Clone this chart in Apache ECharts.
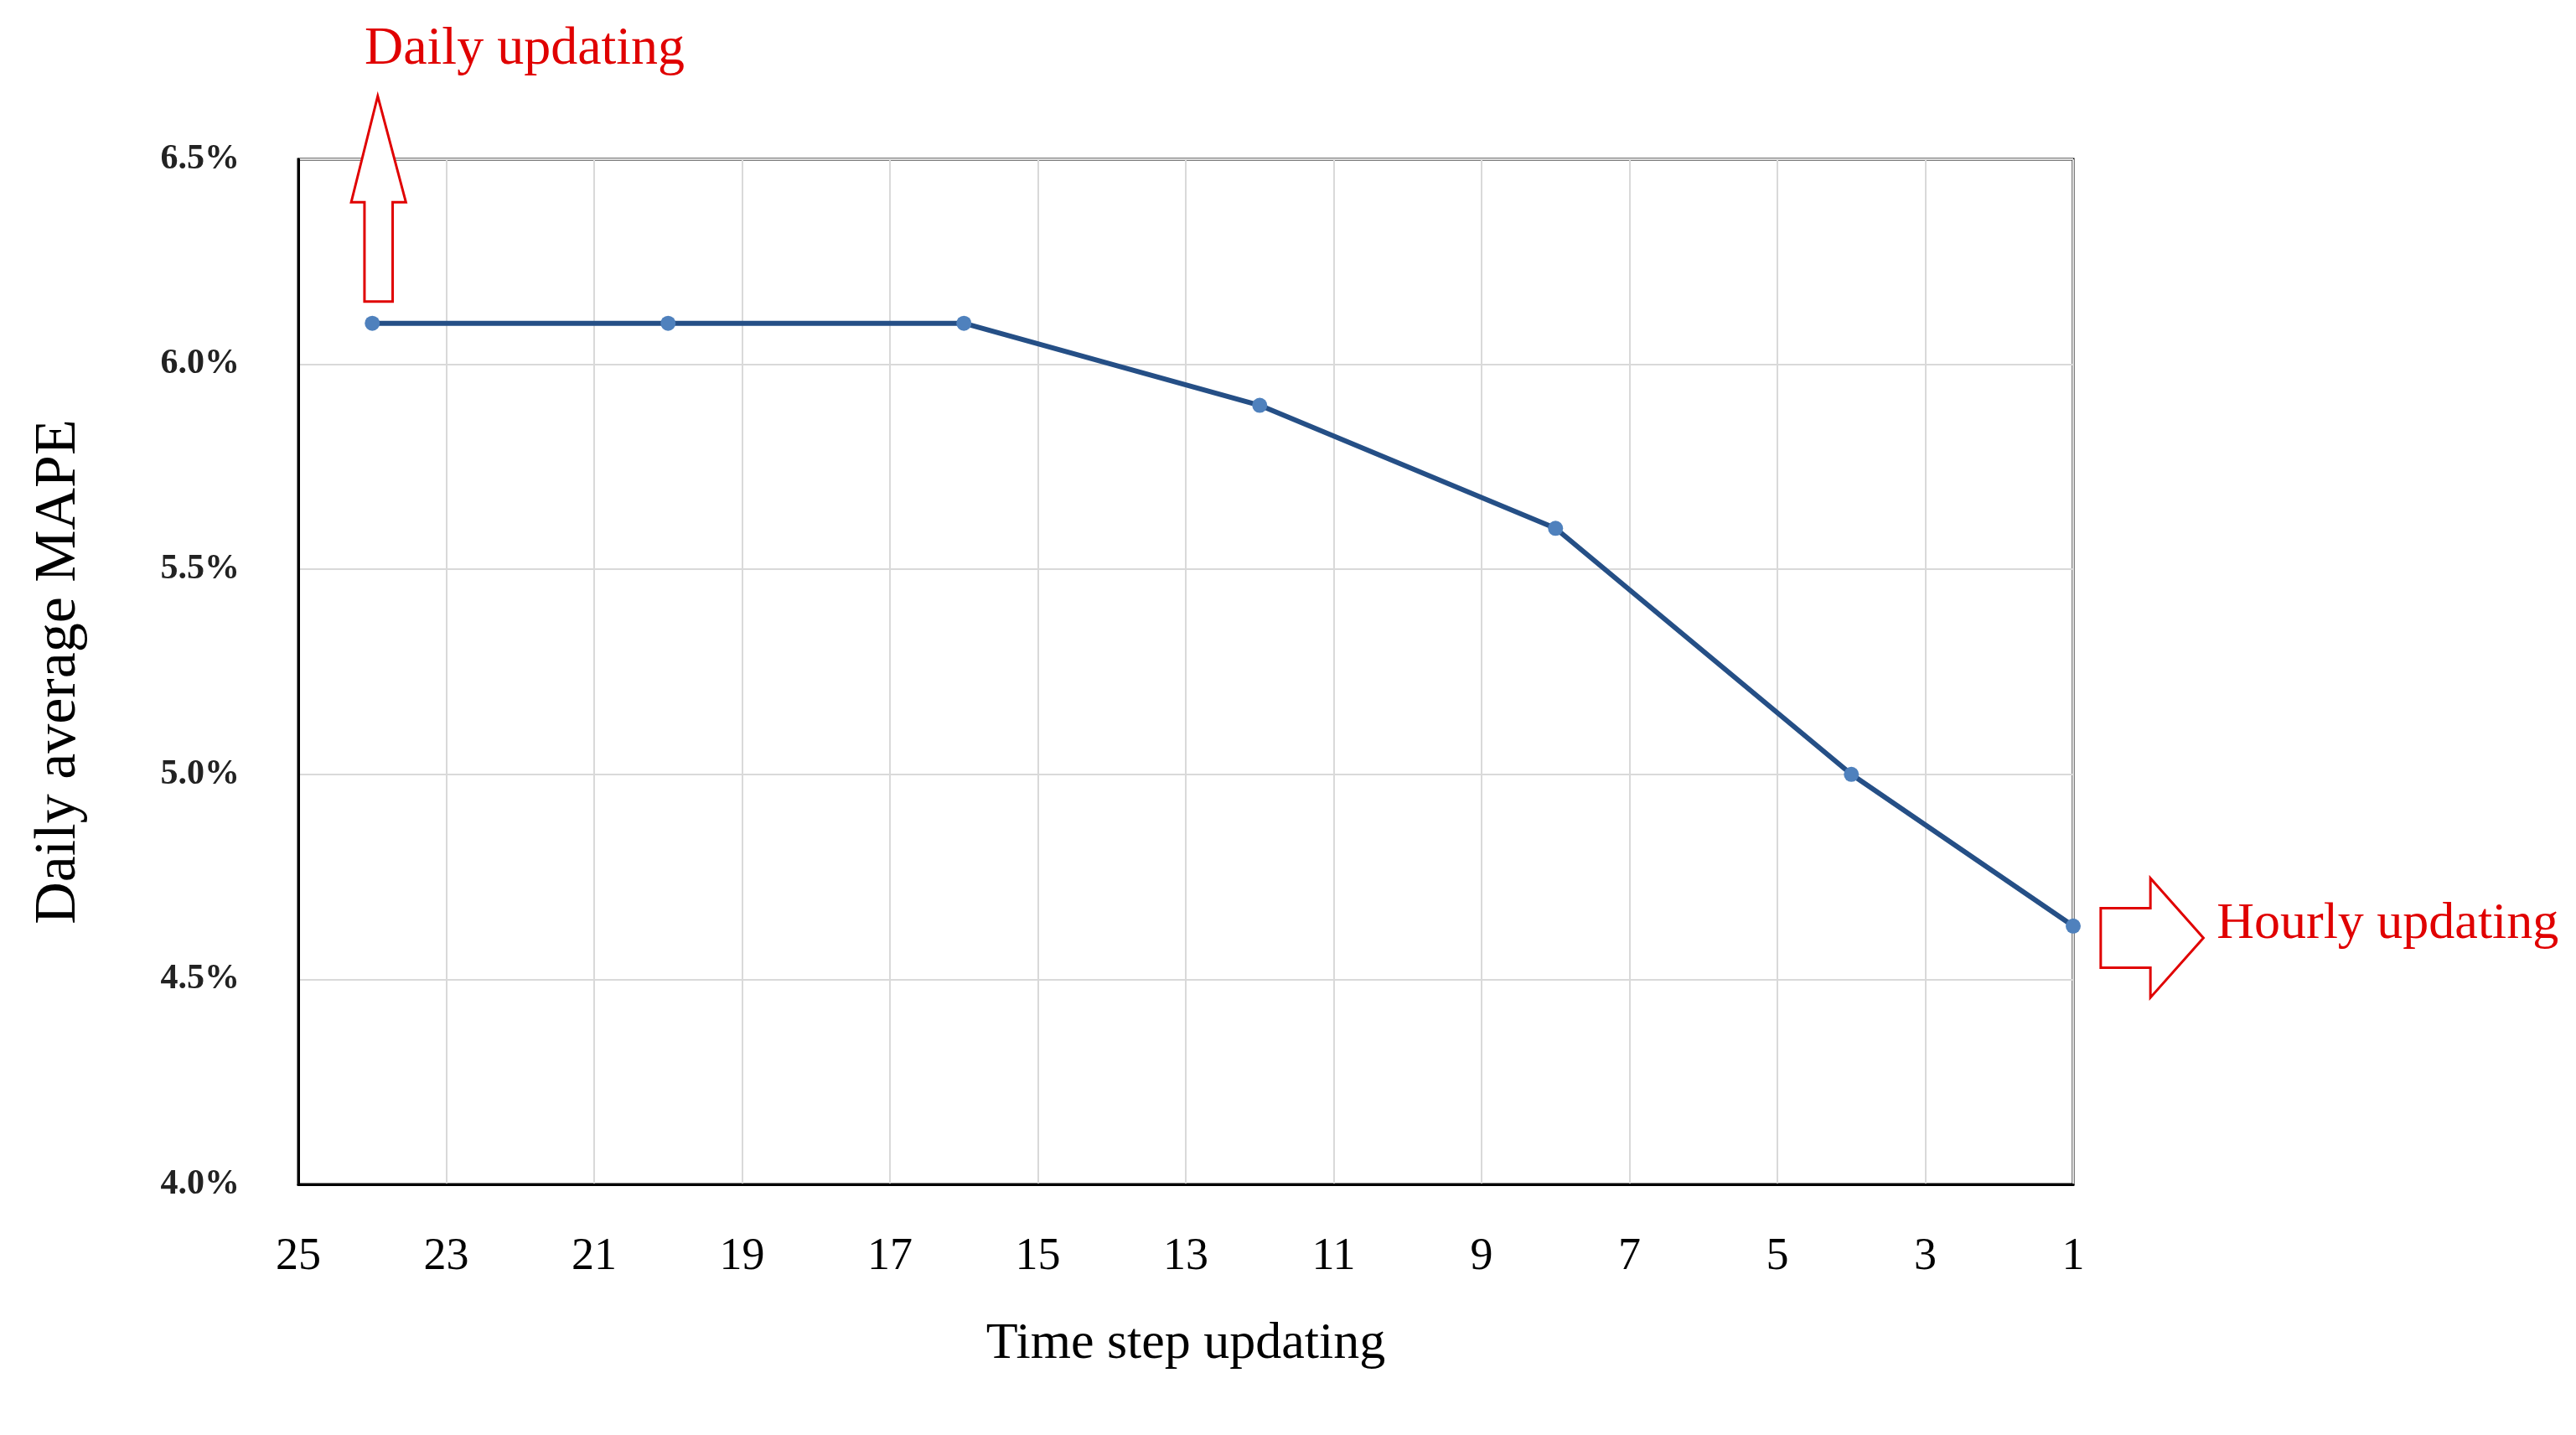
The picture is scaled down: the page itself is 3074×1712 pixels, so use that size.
<!DOCTYPE html>
<html><head><meta charset="utf-8">
<script src="https://cdn.jsdelivr.net/npm/echarts@6/dist/echarts.min.js"></script>
<style>html,body{margin:0;background:#fff}#c{width:3074px;height:1712px}</style>
</head><body><div id="c"></div>
<script>
const steps = [24, 20, 16, 12, 8, 4, 1];
const mape = [6.1, 6.1, 6.1, 5.9, 5.6, 5.0, 4.63];
const yTicks = [4.0, 4.5, 5.0, 5.5, 6.0, 6.5];
const s = 1.977;
function P(pts){return pts.map(p=>[p[0]*s,p[1]*s]);}
const chart = echarts.init(document.getElementById('c'));
chart.setOption({
  animation:false,
  grid:{left:356,right:600,top:190,bottom:1712-1413,show:true,borderColor:'#000',borderWidth:3},
  xAxis:{type:'value',min:1,max:25,interval:2,inverse:true,
    name:'Time step updating',nameLocation:'middle',nameGap:160,
    nameTextStyle:{fontFamily:'Liberation Serif',fontSize:62,color:'#000'},
    axisLine:{show:true,lineStyle:{color:'#000',width:3}},axisTick:{show:false},
    axisLabel:{fontFamily:'Liberation Serif',fontSize:54,color:'#000',margin:60},
    splitLine:{show:true,lineStyle:{color:'#d9d9d9',width:2}}},
  yAxis:{type:'value',min:4.0,max:6.5,interval:0.5,
    name:'Daily average MAPE',nameLocation:'middle',nameGap:250,
    nameTextStyle:{fontFamily:'Liberation Serif',fontSize:70,color:'#000'},
    axisLine:{show:true,lineStyle:{color:'#000',width:3}},axisTick:{show:false},
    axisLabel:{fontFamily:'Liberation Serif',fontSize:42,fontWeight:'bold',color:'#222',margin:70,
      formatter:v=>v.toFixed(1)+'%'},
    splitLine:{show:true,lineStyle:{color:'#d9d9d9',width:2}}},
  series:[{type:'line',data:steps.map((x,i)=>[x,mape[i]]),
    lineStyle:{color:'#254f86',width:6},
    symbol:'circle',symbolSize:18,itemStyle:{color:'#4f81bd'}}],
  graphic:[
    {type:'polygon',shape:{points:P([[228,58],[245,122],[237,122],[237,182],[220,182],[220,122],[212,122]])},
     style:{fill:'#fff',stroke:'#e00000',lineWidth:3},z:10},
    {type:'polygon',shape:{points:P([[1268,548],[1298,548],[1298,530],[1330,566],[1298,602],[1298,584],[1268,584]])},
     style:{fill:'#fff',stroke:'#e00000',lineWidth:3},z:10},
    {type:'text',left:220*s,top:14*s,style:{text:'Daily updating',fontFamily:'Liberation Serif',fontSize:64,fill:'#e00000'}},
    {type:'text',left:1338*s,top:542*s,style:{text:'Hourly updating',fontFamily:'Liberation Serif',fontSize:62,fill:'#e00000'}}
  ]
});
</script></body></html>
